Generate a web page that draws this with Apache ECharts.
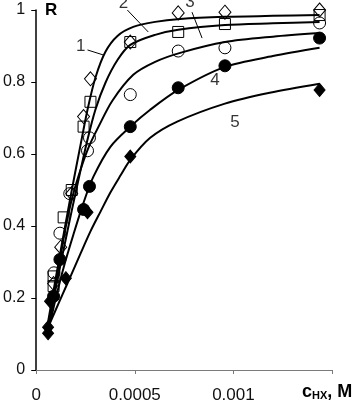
<!DOCTYPE html>
<html>
<head>
<meta charset="utf-8">
<script src="https://cdn.jsdelivr.net/npm/echarts@6/dist/echarts.min.js"></script>
<style>
html, body { margin: 0; padding: 0; background: #fff; }
#chart1 { width: 355px; height: 404px; }
</style>
</head>
<body>
<div id="chart1"></div>
<script>
// fitted curves 1..5, [c, R]
var curve1 = [[0.000058,0.127],[0.000098,0.252],[0.000139,0.377],[0.000179,0.496],[0.00022,0.612],[0.00026,0.723],[0.0003,0.812],[0.000351,0.884],[0.000412,0.928],[0.000492,0.953],[0.000603,0.967],[0.00073,0.975],[0.000957,0.981],[0.0012,0.984],[0.001437,0.986]];
var curve2 = [[0.000058,0.114],[0.000098,0.224],[0.000139,0.335],[0.000179,0.44],[0.00022,0.543],[0.00026,0.64],[0.0003,0.723],[0.000351,0.798],[0.000412,0.861],[0.000477,0.903],[0.000603,0.931],[0.00072,0.945],[0.000957,0.958],[0.0012,0.963],[0.001437,0.967]];
var curve3 = [[0.000063,0.114],[0.000088,0.202],[0.000119,0.302],[0.000149,0.396],[0.000184,0.482],[0.000225,0.557],[0.000265,0.618],[0.000316,0.676],[0.000386,0.748],[0.000492,0.82],[0.000603,0.856],[0.00073,0.881],[0.000957,0.911],[0.0012,0.926],[0.001437,0.936]];
var curve4 = [[0.000073,0.136],[0.000098,0.197],[0.000139,0.285],[0.000189,0.377],[0.00024,0.465],[0.00029,0.537],[0.000376,0.62],[0.000477,0.676],[0.000578,0.723],[0.00072,0.778],[0.000957,0.842],[0.0012,0.872],[0.001437,0.895]];
var curve5 = [[0.000063,0.122],[0.000098,0.166],[0.000134,0.211],[0.000174,0.26],[0.000225,0.324],[0.000275,0.385],[0.000326,0.44],[0.000376,0.493],[0.000427,0.54],[0.000477,0.584],[0.000578,0.645],[0.000715,0.69],[0.000957,0.74],[0.001184,0.77],[0.001437,0.795]];

// measured points
var points1 = [[0.000088,0.24],[0.000124,0.341],[0.00018,0.49],[0.00024,0.704],[0.000275,0.809],[0.000477,0.911],[0.00072,0.992],[0.000957,0.994],[0.001437,1.0]];
var points2 = [[0.000088,0.233],[0.000088,0.26],[0.000139,0.424],[0.00018,0.5],[0.00024,0.676],[0.000275,0.745],[0.000477,0.911],[0.00072,0.939],[0.000957,0.961],[0.001437,0.986]];
var points3 = [[0.00009,0.27],[0.00012,0.38],[0.00017,0.49],[0.00026,0.609],[0.00027,0.645],[0.000477,0.765],[0.00072,0.886],[0.000957,0.895],[0.001437,0.964]];
var points4 = [[0.000088,0.205],[0.00012,0.307],[0.00024,0.446],[0.00027,0.51],[0.000477,0.676],[0.00072,0.784],[0.000957,0.845],[0.001437,0.922]];
var points5 = [[0.00006,0.102],[0.00006,0.119],[0.00007,0.191],[0.00015,0.255],[0.00026,0.438],[0.000477,0.593],[0.001437,0.778]];

// curve numbers and their leader lines
var curveNames = ['1', '2', '3', '4', '5'];
var namePos = [[0.000225,0.898],[0.000442,1.019],[0.00078,1.022],[0.000907,0.806],[0.001008,0.687]];
var leaders = [
	[[0.00026,0.889],[0.000341,0.875]],
	[[0.000462,1.0],[0.000568,0.939]],
	[[0.00079,0.994],[0.000841,0.922]]
];

var xMax = 0.0015;
var yTicks = [0, 0.2, 0.4, 0.6, 0.8, 1];

var chart = echarts.init(document.getElementById('chart1'));

var fontName = 'Liberation Sans, Arial, sans-serif';

function curveSeries(data) {
	return {
		type: 'line',
		data: data,
		smooth: 0.3,
		showSymbol: false,
		clip: false,
		z: 2,
		lineStyle: { color: '#000', width: 2 }
	};
}

function pointSeries(data, symbol, size, filled) {
	return {
		type: 'scatter',
		data: data,
		symbol: symbol,
		symbolSize: size,
		clip: false,
		z: 3,
		itemStyle: {
			color: filled ? '#000' : 'rgba(255,255,255,0)',
			borderColor: '#000',
			borderWidth: 1,
			opacity: 1
		}
	};
}

var series = [
	curveSeries(curve1), curveSeries(curve2), curveSeries(curve3),
	curveSeries(curve4), curveSeries(curve5),
	pointSeries(points1, 'diamond', [12, 14], false),
	pointSeries(points2, 'rect', 11, false),
	pointSeries(points3, 'circle', 12, false),
	pointSeries(points4, 'circle', 12, true),
	pointSeries(points5, 'diamond', [11, 13], true)
];

for (var i = 0; i < leaders.length; i++) {
	series.push({
		type: 'line',
		data: leaders[i],
		showSymbol: false,
		clip: false,
		lineStyle: { color: '#000', width: 1 }
	});
}

var labelData = [];
for (var j = 0; j < curveNames.length; j++) {
	labelData.push({ name: curveNames[j], value: namePos[j] });
}
series.push({
	type: 'scatter',
	data: labelData,
	symbolSize: 0,
	clip: false,
	label: {
		show: true,
		position: 'inside',
		formatter: '{b}',
		color: '#000',
		fontSize: 17,
		fontFamily: fontName
	}
});

var option = {
	animation: false,
	grid: { left: 35, top: 10, width: 297, height: 361, containLabel: false },
	xAxis: {
		type: 'value',
		min: 0,
		max: xMax,
		interval: 0.0005,
		splitLine: { show: false },
		axisLine: { lineStyle: { color: '#7a7a7a', width: 1 } },
		axisTick: { show: true, length: 4, lineStyle: { color: '#7a7a7a' } },
		axisLabel: {
			margin: 17,
			fontSize: 17,
			color: '#111',
			fontFamily: fontName,
			formatter: function(v) {
				return v > 0.0012 ? '' : String(v);
			}
		}
	},
	yAxis: {
		type: 'value',
		min: yTicks[0],
		max: yTicks[yTicks.length - 1],
		interval: 0.2,
		splitLine: { show: false },
		axisLine: { show: true, lineStyle: { color: '#000', width: 1.5 } },
		axisTick: { show: true, length: 5, lineStyle: { color: '#000' } },
		axisLabel: {
			margin: 11,
			fontSize: 16,
			color: '#111',
			fontFamily: fontName
		}
	},
	graphic: [{
		type: 'text',
		left: 45,
		top: 2,
		style: { text: 'R', font: 'bold 17px ' + fontName, fill: '#000' }
	}, {
		type: 'text',
		left: 302,
		top: 383,
		style: {
			text: '{a|c}{b|HX}{a|, M}',
			rich: {
				a: { font: 'bold 18px ' + fontName, fill: '#000' },
				b: { font: 'bold 11px ' + fontName, fill: '#000', padding: [8, 0, 0, 0] }
			}
		}
	}],
	series: series
};

chart.setOption(option);
</script>
</body>
</html>
